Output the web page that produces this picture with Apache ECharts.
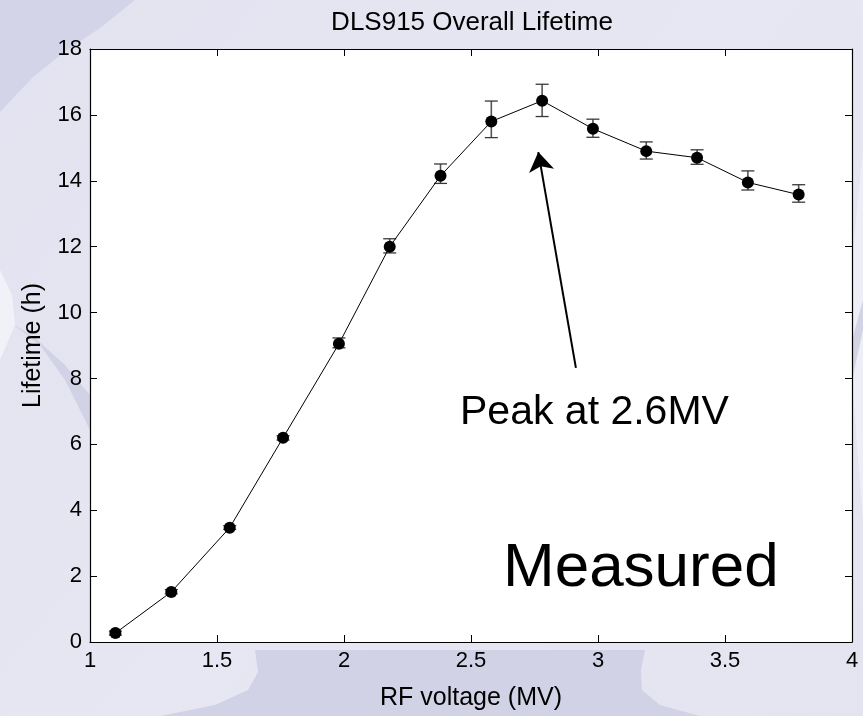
<!DOCTYPE html>
<html>
<head>
<meta charset="utf-8">
<script src="https://cdn.jsdelivr.net/npm/echarts@6/dist/echarts.min.js"></script>
<style>
  html, body { margin: 0; padding: 0; background: #e6e6f2; }
  #chart { width: 863px; height: 716px; }
</style>
</head>
<body>
<div id="chart"></div>
<script>
// RF voltage (MV) for each lifetime measurement
const rfVoltage = [1.10, 1.32, 1.55, 1.76, 1.98, 2.18, 2.38, 2.58, 2.78, 2.98, 3.19, 3.39, 3.59, 3.79];
// Measured beam lifetime (h)
const lifetime  = [0.27, 1.52, 3.47, 6.20, 9.05, 12.00, 14.15, 15.80, 16.43, 15.58, 14.90, 14.70, 13.95, 13.58];
// Lower / upper ends of each error bar (h)
const errLow    = [0.21, 1.46, 3.42, 6.13, 8.93, 11.81, 13.92, 15.31, 15.95, 15.32, 14.66, 14.50, 13.72, 13.35];
const errHigh   = [0.33, 1.59, 3.53, 6.26, 9.23, 12.24, 14.51, 16.42, 16.93, 15.87, 15.18, 14.94, 14.30, 13.88];

// Axis ranges and tick steps
const xRange = { min: 1, max: 4, step: 0.5 };
const yRange = { min: 0, max: 18, step: 2 };

// Annotation arrow: tail and head, in data units
const arrowTail = [2.913, 8.32];
const arrowHead = [2.765, 14.87];

const FONT = '"Liberation Sans", Arial, Helvetica, sans-serif';

const lineData = rfVoltage.map((x, i) => [x, lifetime[i]]);
const errData = rfVoltage.map((x, i) => [x, errLow[i], errHigh[i]]);

const chart = echarts.init(document.getElementById('chart'), null, { renderer: 'canvas' });

function boxAxis(extra) {
  return Object.assign({
    type: 'value',
    axisLine: { show: true, onZero: false, lineStyle: { color: '#000', width: 1.2 } },
    axisTick: { show: true, inside: true, length: 7, lineStyle: { color: '#000', width: 1 } },
    splitLine: { show: false }
  }, extra);
}

// decorative backdrop pieces sit underneath the grid
function backdropShape(points, fill, opacity) {
  return {
    type: 'polygon', z: -2, silent: true,
    shape: { points: points },
    style: { fill: fill, opacity: opacity == null ? 1 : opacity }
  };
}

const tickLabel = { color: '#000', fontSize: 22, fontFamily: FONT };

const option = {
  animation: false,
  backgroundColor: 'transparent',
  title: {
    text: 'DLS915 Overall Lifetime',
    left: 467,
    top: 5,
    textAlign: 'center',
    textStyle: { color: '#000', fontSize: 26, fontWeight: 'normal', fontFamily: FONT }
  },
  graphic: [
    // lavender backdrop
    {
      type: 'rect', z: -3, silent: true,
      shape: { x: 0, y: 0, width: 863, height: 716 },
      style: {
        fill: new echarts.graphic.LinearGradient(0, 0, 1, 1, [
          { offset: 0, color: '#e2e2f0' },
          { offset: 0.5, color: '#e7e7f3' },
          { offset: 1, color: '#e4e4f1' }
        ])
      }
    },
    // darker sweep in the upper-left corner
    backdropShape([[0, 0], [135, 0], [100, 28], [67, 50], [33, 77], [0, 112]], '#d4d4e8'),
    // diagonal streak on the left edge
    backdropShape([[10, 322], [40, 345], [65, 380], [90, 430], [90, 395], [65, 365], [35, 338]], '#cdcde3', 0.8),
    // pale glow at the left edge
    backdropShape([[0, 270], [12, 295], [15, 325], [0, 360]], '#f1f1f8'),
    // darker band below the plot
    backdropShape([[255, 650], [258, 672], [248, 690], [215, 705], [160, 716], [700, 716], [660, 705], [642, 690], [641, 670], [645, 650]], '#d2d2e7'),
    // pale sweep on the right edge
    backdropShape([[863, 150], [853, 250], [852, 380], [863, 520]], '#eeeef7'),
    backdropShape([[852, 340], [863, 300], [863, 330], [852, 380]], '#d3d3e6'),
    // annotation texts
    {
      type: 'text', z: 100, silent: true,
      left: 460, top: 392,
      style: { text: 'Peak at 2.6MV', fill: '#000', fontSize: 41, fontFamily: FONT }
    },
    {
      type: 'text', z: 100, silent: true,
      left: 503, top: 538,
      style: { text: 'Measured', fill: '#000', fontSize: 62, fontFamily: FONT }
    }
  ],
  grid: {
    left: 90, right: 11, top: 49, bottom: 68,
    show: true, backgroundColor: '#ffffff', borderWidth: 0
  },
  xAxis: [
    boxAxis({
      position: 'bottom', min: xRange.min, max: xRange.max, interval: xRange.step,
      name: 'RF voltage (MV)', nameLocation: 'middle', nameGap: 44,
      nameTextStyle: { color: '#000', fontSize: 25, fontFamily: FONT },
      axisLabel: Object.assign({ margin: 8 }, tickLabel)
    }),
    boxAxis({
      position: 'top', min: xRange.min, max: xRange.max, interval: xRange.step,
      axisLabel: { show: false }
    })
  ],
  yAxis: [
    boxAxis({
      position: 'left', min: yRange.min, max: yRange.max, interval: yRange.step,
      name: 'Lifetime (h)', nameLocation: 'middle', nameGap: 44, nameRotate: 90,
      nameTextStyle: { color: '#000', fontSize: 25, fontFamily: FONT },
      axisLabel: Object.assign({ margin: 8 }, tickLabel)
    }),
    boxAxis({
      position: 'right', min: yRange.min, max: yRange.max, interval: yRange.step,
      axisLabel: { show: false }
    })
  ],
  series: [
    {
      type: 'custom',
      name: 'error',
      xAxisIndex: 0, yAxisIndex: 0,
      z: 3,
      data: errData,
      renderItem: function (params, api) {
        const x = api.value(0);
        const lo = api.coord([x, api.value(1)]);
        const hi = api.coord([x, api.value(2)]);
        const w = 6.5;
        const st = { stroke: '#383838', lineWidth: 1.3 };
        return {
          type: 'group',
          children: [
            { type: 'line', shape: { x1: lo[0], y1: lo[1], x2: hi[0], y2: hi[1] }, style: { stroke: '#555', lineWidth: 1.6 } },
            { type: 'line', shape: { x1: lo[0] - w, y1: lo[1], x2: lo[0] + w, y2: lo[1] }, style: st },
            { type: 'line', shape: { x1: hi[0] - w, y1: hi[1], x2: hi[0] + w, y2: hi[1] }, style: st }
          ]
        };
      }
    },
    {
      type: 'line',
      name: 'Lifetime',
      xAxisIndex: 0, yAxisIndex: 0,
      z: 4,
      data: lineData,
      symbol: 'circle',
      symbolSize: 12,
      itemStyle: { color: '#000' },
      lineStyle: { color: '#000', width: 1 },
      markLine: {
        silent: true,
        symbol: ['none', 'arrow'],
        symbolSize: 19,
        label: { show: false },
        lineStyle: { color: '#000', width: 2, type: 'solid' },
        data: [[{ coord: arrowTail }, { coord: arrowHead }]]
      }
    }
  ]
};

chart.setOption(option);
</script>
</body>
</html>
